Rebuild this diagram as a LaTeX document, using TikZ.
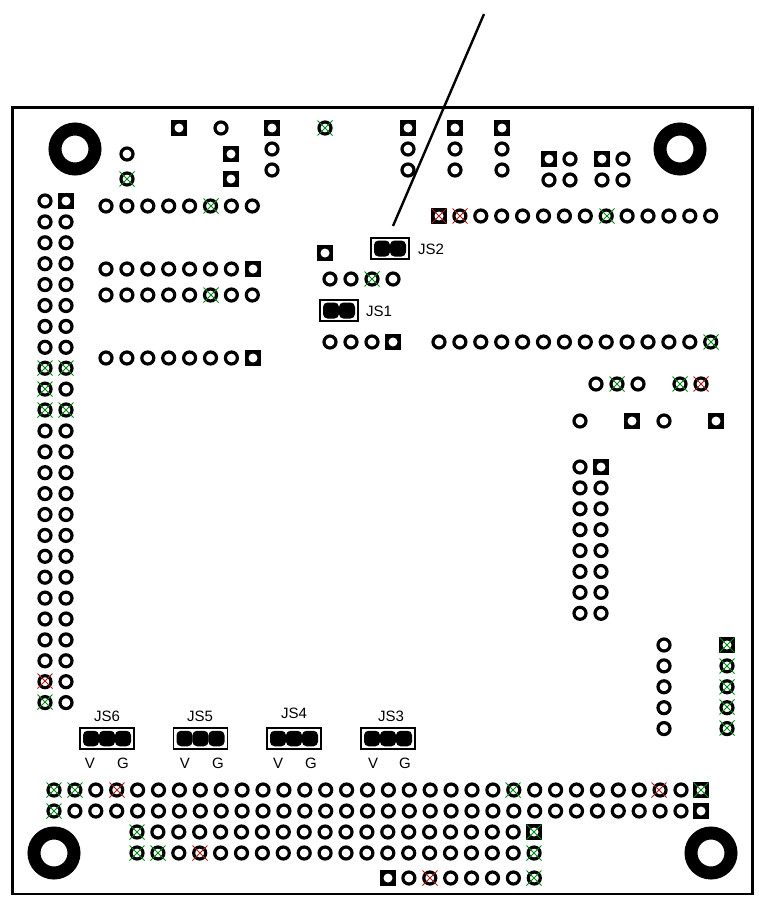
\documentclass[tikz,border=0pt]{standalone}
\usepackage{fontspec}
\setmainfont{Liberation Sans}
\definecolor{xgreen}{RGB}{0,140,20}
\definecolor{xred}{RGB}{175,30,30}
\tikzset{
  padr/.style={circle,draw=black,line width=3.2pt,fill=white,minimum size=12pt,inner sep=0pt},
  pads/.style={rectangle,fill=black,minimum size=15.4pt,inner sep=0pt},
  hole/.style={circle,fill=white,minimum size=9pt,inner sep=0pt},
  bigpad/.style={circle,draw=black,line width=13pt,fill=white,minimum size=40pt,inner sep=0pt},
  jsbox/.style={rectangle,draw=black,line width=1.6pt,fill=white,inner sep=0pt,minimum height=21pt},
  jspin/.style={rectangle,rounded corners=4.5pt,fill=black,minimum width=16pt,minimum height=15.5pt,inner sep=0pt},
  lbl/.style={font=\fontsize{15}{15}\selectfont,inner sep=0pt,text=black},
  xmark/.style={line width=0.8pt},
}
\newcommand\PR[2]{\node[padr] at (#1,#2) {};}
\newcommand\PS[2]{\node[pads] at (#1,#2) {};\node[hole] at (#1,#2) {};}
\newcommand\XG[2]{\draw[xmark,xgreen] (#1-7.5,#2-7.5)--(#1+7.5,#2+7.5) (#1-7.5,#2+7.5)--(#1+7.5,#2-7.5);}
\newcommand\XR[2]{\draw[xmark,xred] (#1-7.5,#2-7.5)--(#1+7.5,#2+7.5) (#1-7.5,#2+7.5)--(#1+7.5,#2-7.5);}
\newcommand\Row[3]{\foreach \k in {#3} {\pgfmathsetmacro\px{#2+20.9*\k}\PR{\px}{#1}}}
\newcommand\Col[3]{\foreach \k in {#3} {\pgfmathsetmacro\py{#2+20.9*\k}\PR{#1}{\py}}}
\newcommand\JSthree[7]{% name, cx, label x, label y, label, Vx, Gx
  \node[jsbox,minimum width=54pt] (#1) at (#2,738.5) {};
  \node[jspin] (#1a) at (#2-16,738.5) {};
  \node[jspin] (#1b) at (#2,738.5) {};
  \node[jspin] (#1c) at (#2+16,738.5) {};
  \node[lbl] (#1l) at (#3,#4) {#5};
  \node[lbl] (#1v) at (#6,763.5) {V};
  \node[lbl] (#1g) at (#7,763.5) {G};
}
\begin{document}
\begin{tikzpicture}[x=1pt,y=-1pt]
\useasboundingbox (0,0) rectangle (759,899);
\fill[white] (0,0) rectangle (759,899);
\draw[black,line width=2.2pt] (12.5,107.5) rectangle (752.5,894);
% mounting holes
\node[bigpad] (h1) at (75,149) {};
\node[bigpad] (h2) at (680,149) {};
\node[bigpad] (h3) at (54,853) {};
\node[bigpad] (h4) at (711,853) {};
% top connectors
\PS{179}{128} \PR{221}{128}
\PS{272}{128} \PR{272}{149} \PR{272}{170}
\PR{325}{128} \XG{325}{128}
\PS{408}{128} \PR{408}{149} \PR{408}{170}
\PS{455}{128} \PR{455}{149} \PR{455}{170}
\PS{502}{128} \PR{502}{149} \PR{502}{170}
\PR{127}{154} \PR{127}{179} \XG{127}{179}
\PS{231}{154} \PS{231}{179}
\PS{549}{159} \PR{570}{159} \PR{549}{180} \PR{570}{180}
\PS{602}{159} \PR{623}{159} \PR{602}{180} \PR{623}{180}
% left header
\Col{45}{201}{0,...,24}
\PS{66}{201}
\Col{66}{201}{1,...,24}
\XG{45}{368} \XG{66}{368} \XG{45}{389} \XG{45}{410} \XG{66}{410}
\XR{45}{681} \XG{45}{702}
% upper-left rows
\Row{206}{106}{0,...,7} \XG{211}{206}
\Row{269}{106}{0,...,6} \PS{253}{269}
\Row{295}{106}{0,...,7} \XG{211}{295}
\Row{358}{106}{0,...,6} \PS{253}{358}
% centre
\PS{325}{253}
\PR{330}{279} \PR{351}{279} \PR{372}{279} \PR{393}{279} \XG{372}{279}
\PR{330}{342} \PR{351}{342} \PR{372}{342} \PS{393}{342}
% jumpers JS1, JS2
\node[jsbox,minimum width=38pt] (JS2) at (390,248.5) {};
\node[jspin,minimum height=16pt] (JS2a) at (382,248.5) {};
\node[jspin,minimum height=16pt] (JS2b) at (398,248.5) {};
\node[lbl] (JS2l) at (431,249) {JS2};
\node[jsbox,minimum width=38pt] (JS1) at (339,310.5) {};
\node[jspin,minimum height=16pt] (JS1a) at (331,310.5) {};
\node[jspin,minimum height=16pt] (JS1b) at (347,310.5) {};
\node[lbl] (JS1l) at (379,311) {JS1};
% right rows
\PS{439}{216} \XR{439}{216}
\Row{216}{439}{1,...,13} \XR{460}{216} \XG{607}{216}
\Row{342}{439}{0,...,13} \XG{711}{342}
\PR{596}{384} \PR{617}{384} \PR{638}{384} \XG{617}{384}
\PR{680}{384} \PR{701}{384} \XG{680}{384} \XR{701}{384}
\PR{580}{421} \PS{632}{421} \PR{664}{421} \PS{716}{421}
\Col{580}{467}{0,...,7}
\PS{601}{467}
\Col{601}{467}{1,...,7}
\Col{664}{645}{0,...,4}
\PS{727}{645} \Col{727}{645}{1,...,4}
\XG{727}{645} \XG{727}{666} \XG{727}{687} \XG{727}{707} \XG{727}{728}
% jumpers JS3..JS6
\JSthree{JS6}{107}{107}{716}{JS6}{90}{123}
\JSthree{JS5}{200.5}{200}{716}{JS5}{185}{218}
\JSthree{JS4}{294}{294}{713}{JS4}{278}{311}
\JSthree{JS3}{388}{391}{716}{JS3}{373}{405}
% bottom rows
\Row{790}{54}{0,...,30} \PS{701}{790}
\Row{811}{54}{0,...,30} \PS{701}{811}
\XG{54}{790} \XG{75}{790} \XR{117}{790} \XG{513}{790} \XR{659}{790} \XG{701}{790} \XG{54}{811}
\Row{832}{137}{0,...,18} \PS{534}{832}
\Row{853}{137}{0,...,19}
\XG{137}{832} \XG{534}{832} \XG{137}{853} \XG{158}{853} \XR{200}{853} \XG{534}{853}
\PS{388}{878} \Row{878}{388}{1,...,7} \XR{430}{878} \XG{534}{878}
% leader
\coordinate (leadtop) at (484,14);
\coordinate (leadend) at (393,226);
\draw[black,line width=2.4pt] (leadtop) -- (leadend);
\end{tikzpicture}
\end{document}
